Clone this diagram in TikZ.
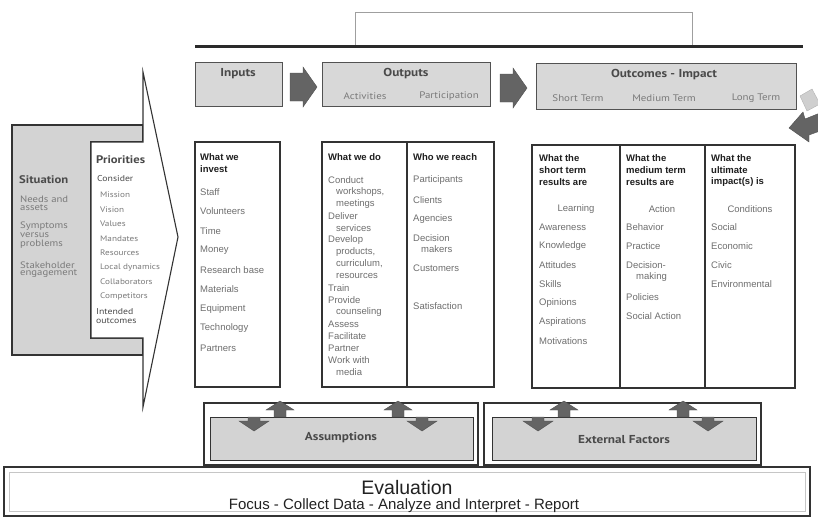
\documentclass[tikz,border=0pt]{standalone}
\usepackage{fontspec}
\setmainfont{Liberation Sans}
\newfontfamily\hum[FakeStretch=1.15]{PT Sans}
\usetikzlibrary{fit}
\definecolor{bord}{HTML}{333333}
\definecolor{linecol}{HTML}{2A2A2A}
\definecolor{hdrfill}{HTML}{D8D8D8}
\definecolor{sitfill}{HTML}{D3D3D3}
\definecolor{itemgray}{HTML}{6E6E6E}
\definecolor{headtxt}{HTML}{1E1E1E}
\definecolor{humdark}{HTML}{4A4A4A}
\definecolor{humgray}{HTML}{7A7A7A}
\definecolor{arrgray}{HTML}{646464}
\definecolor{lightarr}{HTML}{CFCFCF}
\definecolor{evaltxt}{HTML}{222222}
\begin{document}
\begin{tikzpicture}[x=1pt,y=-1pt,
  bx/.style={draw=bord,line width=1.1pt,fill=white,inner sep=0pt},
  hdr/.style={draw=bord!85,line width=1pt,fill=hdrfill,inner sep=0pt},
  itm/.style={anchor=west,inner sep=0pt,text=itemgray,font=\fontsize{9.5}{11}\selectfont},
  hd/.style={anchor=west,inner sep=0pt,text=headtxt,font=\bfseries\fontsize{9.5}{11}\selectfont},
  ctr/.style={inner sep=0pt,text=itemgray,font=\fontsize{9.5}{11}\selectfont},
  ht/.style={inner sep=0pt,text=humdark,font=\hum\bfseries\fontsize{11.5}{13}\selectfont},
  hs/.style={inner sep=0pt,text=humgray,font=\hum\fontsize{9.5}{11}\selectfont},
  sitem/.style={anchor=west,inner sep=0pt,text=humgray,font=\hum\fontsize{9.3}{10}\selectfont},
  pitem/.style={anchor=west,inner sep=0pt,text=humgray,font=\hum\fontsize{8}{9}\selectfont},
  blk/.style={fill=arrgray,draw=arrgray!80!black,line width=0.4pt},
  thin/.style={draw=bord,line width=1.1pt},
]
\useasboundingbox (0,0) rectangle (818,531);

% ---------- top box and rule
\node[fit={(355,12)(692,46)},inner sep=0pt,draw=gray!75,line width=0.8pt] (topbox) {};
\draw[line width=3pt,draw=linecol] (195,46) -- (803,46);

% ---------- header boxes
\node[hdr,fit={(195,62)(282,106)}] (inputs) {};
\node[ht] (inputsT) at (238,74) {Inputs};
\node[hdr,fit={(322,62)(490,106)}] (outputs) {};
\node[ht] (outputsT) at (406,74) {Outputs};
\node[hs] (actT) at (365,96) {Activities};
\node[hs] (partT) at (449,96) {Participation};
\node[hdr,fit={(536,63)(796,109)}] (outcomes) {};
\node[ht] (outcomesT) at (664,75) {Outcomes - Impact};
\node[hs] (stT) at (578,98) {Short Term};
\node[hs] (mtT) at (664,98) {Medium Term};
\node[hs] (ltT) at (756,98) {Long Term};

% block arrows between headers
\fill[blk] (290,73) -- (303,73) -- (303,67) -- (317,87) -- (303,107) -- (303,101) -- (290,101) -- cycle;
\fill[blk] (500,74) -- (513,74) -- (513,68) -- (527,88) -- (513,108) -- (513,102) -- (500,102) -- cycle;
% turning arrow at the right edge
\fill[lightarr,draw=gray!60,line width=0.4pt] (800,96) -- (812,89) -- (820,104) -- (807,111) -- cycle;
\fill[blk] (789,128) -- (803,112) -- (805,119) -- (820,113) -- (820,131) -- (809,135) -- (809,142) -- cycle;

% ---------- situation / priorities
\draw[thin,fill=sitfill] (12,125) -- (143,125) -- (143,142) -- (91,142) -- (91,338) -- (143,338) -- (143,355) -- (12,355) -- cycle;
\draw[thin,fill=white] (143,72) -- (178,237) -- (143,407) -- (143,338) -- (91,338) -- (91,142) -- (143,142) -- cycle;

\node[anchor=west,inner sep=0pt,text=humdark,font=\hum\bfseries\fontsize{11}{13}\selectfont] (sitT) at (19,180) {Situation};
\foreach \t/\y [count=\i] in {Needs and/199,assets/208,Symptoms/226,versus/235,problems/244,Stakeholder/265,engagement/274}
  \node[sitem] (sit\i) at (20,\y) {\t};

\node[anchor=west,inner sep=0pt,text=humdark,font=\hum\bfseries\fontsize{11}{13}\selectfont] (priT) at (96,160) {Priorities};
\node[anchor=west,inner sep=0pt,text=humdark,font=\hum\fontsize{8.5}{9}\selectfont] (consT) at (97,179) {Consider};
\foreach \t/\y [count=\i] in {Mission/195,Vision/209.5,Values/224,Mandates/238.5,Resources/253,Local dynamics/267.5,Collaborators/282,Competitors/296.5}
  \node[pitem] (pri\i) at (100,\y) {\t};
\node[anchor=west,inner sep=0pt,text=humdark,font=\hum\fontsize{8.5}{9}\selectfont] (intT1) at (96,312) {Intended};
\node[anchor=west,inner sep=0pt,text=humdark,font=\hum\fontsize{8.5}{9}\selectfont] (intT2) at (96,321) {outcomes};

% ---------- column boxes
\node[bx,fit={(195,142)(280,387)}] (invest) {};
\node[bx,fit={(322,142)(494,387)}] (doreach) {};
\draw[thin] (407,142) -- (407,387);
\node[bx,fit={(532,145)(795,388)}] (results) {};
\draw[thin] (620,145) -- (620,388);
\draw[thin] (705,145) -- (705,388);

% inputs column
\node[hd] (invH1) at (200,157) {What we};
\node[hd] (invH2) at (200,169) {invest};
\foreach \t/\y [count=\i] in {Staff/192,Volunteers/211.5,Time/231,Money/250.5,Research base/270,Materials/289.5,Equipment/309,Technology/328.5,Partners/348}
  \node[itm] (inv\i) at (200,\y) {\t};

% what we do
\node[hd] (doH) at (328,157) {What we do};
\foreach \t/\dx/\y [count=\i] in {Conduct/0/180,{workshops,}/8/192,meetings/8/204,Deliver/0/216,services/8/228,Develop/0/240,{products,}/8/252,{curriculum,}/8/264,resources/8/276,Train/0/288,Provide/0/300,counseling/8/312,Assess/0/324,Facilitate/0/336,Partner/0/348,Work with/0/360,media/8/372}
  \node[itm] (do\i) at (328+\dx,\y) {\t};

% who we reach
\node[hd] (reH) at (413,157) {Who we reach};
\foreach \t/\dx/\y [count=\i] in {Participants/0/180,Clients/0/200,Agencies/0/219,Decision/0/238,makers/8/249,Customers/0/268,Satisfaction/0/306}
  \node[itm] (re\i) at (413+\dx,\y) {\t};

% short term
\foreach \t/\y [count=\i] in {What the/158,short term/170,results are/182}
  \node[hd] (stH\i) at (539,\y) {\t};
\node[ctr] (learn) at (576,209) {Learning};
\foreach \t/\y [count=\i] in {Awareness/227,Knowledge/246,Attitudes/265,Skills/284,Opinions/303,Aspirations/322,Motivations/341}
  \node[itm] (st\i) at (539,\y) {\t};

% medium term
\foreach \t/\y [count=\i] in {What the/158,medium term/170,results are/182}
  \node[hd] (mtH\i) at (626,\y) {\t};
\node[ctr] (action) at (662,209) {Action};
\foreach \t/\dx/\y [count=\i] in {Behavior/0/227,Practice/0/246,Decision-/0/265,making/10/277,Policies/0/297,Social Action/0/316}
  \node[itm] (mt\i) at (626+\dx,\y) {\t};

% long term
\foreach \t/\y [count=\i] in {What the/158,ultimate/170,impact(s) is/182}
  \node[hd] (ltH\i) at (711,\y) {\t};
\node[ctr] (cond) at (750,209) {Conditions};
\foreach \t/\y [count=\i] in {Social/227,Economic/246,Civic/265,Environmental/284}
  \node[itm] (lt\i) at (711,\y) {\t};

% ---------- assumptions / external factors
\node[fit={(204,403)(478,465)},inner sep=0pt,draw=bord,line width=1.6pt,fill=white] (assO) {};
\node[fit={(210,417)(473,460)},inner sep=0pt,draw=bord,line width=1pt,fill=sitfill] (assI) {};
\node[ht] (assT) at (341,438) {Assumptions};
\node[fit={(484,403)(761,465)},inner sep=0pt,draw=bord,line width=1.6pt,fill=white] (extO) {};
\node[fit={(492,417)(756,460)},inner sep=0pt,draw=bord,line width=1pt,fill=sitfill] (extI) {};
\node[ht] (extT) at (624,440) {External Factors};

\foreach \cx in {280,398,564,683}
  \fill[blk] (\cx,401) -- (\cx+14,410) -- (\cx+6,410) -- (\cx+6,417) -- (\cx-6,417) -- (\cx-6,410) -- (\cx-14,410) -- cycle;
\foreach \cx in {254,422,538,708}
  \fill[blk] (\cx-6,417) -- (\cx+6,417) -- (\cx+6,421) -- (\cx+15,421) -- (\cx,431) -- (\cx-15,421) -- (\cx-6,421) -- cycle;

% ---------- evaluation
\node[fit={(4,467)(810,516)},inner sep=0pt,draw=bord,line width=2.2pt,fill=white] (evalO) {};
\draw[gray!45,line width=0.6pt] (9,472) rectangle (805,511);
\node[inner sep=0pt,text=evaltxt,font=\fontsize{19.5}{22}\selectfont] (evalT) at (407,487.5) {Evaluation};
\node[inner sep=0pt,text=evaltxt,font=\fontsize{15}{17}\selectfont] (evalS) at (404,505.5) {Focus - Collect Data - Analyze and Interpret - Report};
\end{tikzpicture}
\end{document}
